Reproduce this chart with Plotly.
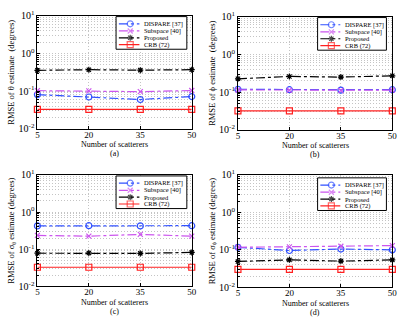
import plotly.graph_objects as go

W, H = 416, 324

scatterers = [5, 20, 35, 50]
names = ["DISPARE [37]", "Subspace [40]", "Proposed", "CRB (72)"]

# panel (a) theta
dispare_a = [0.081, 0.070, 0.060, 0.072]
subspace_a = [0.103, 0.102, 0.097, 0.104]
proposed_a = [0.355, 0.37, 0.36, 0.37]
crb_a = [0.033, 0.033, 0.033, 0.033]

# panel (b) phi
dispare_b = [0.118, 0.116, 0.113, 0.116]
subspace_b = [0.114, 0.112, 0.110, 0.113]
proposed_b = [0.225, 0.26, 0.25, 0.27]
crb_b = [0.032, 0.032, 0.032, 0.032]

# panel (c) sigma theta
dispare_c = [0.425, 0.43, 0.425, 0.43]
subspace_c = [0.235, 0.225, 0.25, 0.225]
proposed_c = [0.078, 0.079, 0.077, 0.082]
crb_c = [0.0327, 0.0327, 0.0327, 0.0327]

# panel (d) sigma phi
dispare_d = [0.117, 0.096, 0.105, 0.100]
subspace_d = [0.117, 0.12, 0.125, 0.13]
proposed_d = [0.049, 0.054, 0.050, 0.054]
crb_d = [0.030, 0.030, 0.030, 0.030]

panels = [
    ([dispare_a, subspace_a, proposed_a, crb_a], "RMSE of θ estimate  (degrees)", "(a)"),
    ([dispare_b, subspace_b, proposed_b, crb_b], "RMSE of ϕ estimate  (degrees)", "(b)"),
    ([dispare_c, subspace_c, proposed_c, crb_c], "RMSE of σ<sub>θ</sub> estimate (degrees)", "(c)"),
    ([dispare_d, subspace_d, proposed_d, crb_d], "RMSE of σ<sub>ϕ</sub> estimate (degrees)", "(d)"),
]

# pixel boxes: plot area (left, right, top, bottom) and legend box
plot_px = [(36, 193, 9, 127), (240, 397, 10, 128), (36, 193, 175, 291), (240, 397, 175, 292)]
legend_px = [(116, 188, 10, 44), (321, 391, 11, 45), (116, 188, 176, 210), (321, 391, 178, 212)]

styles = [
    dict(color="#3050ff", dash="dashdot", symbol="circle-open", size=6),
    dict(color="#cc55ee", dash="dashdot", symbol="x-thin-open", size=5),
    dict(color="#000000", dash="dashdot", symbol="asterisk-open", size=5),
    dict(color="#ff2020", dash="solid", symbol="square-open", size=6),
]

FONT = "Liberation Serif"
GRID = "#c4c4c4"
GRID_DASH = "1px,2px"


def dom_x(a, b):
    return [a / W, b / W]


def dom_y(top, bottom):
    return [1 - bottom / H, 1 - top / H]


fig = go.Figure()
layout = {}

for i, (series, ytitle, tag) in enumerate(panels):
    n = i + 1
    xa, ya = f"x{n}", f"y{n}"
    for vals, name, st in zip(series, names, styles):
        fig.add_trace(go.Scatter(
            x=scatterers, y=vals, xaxis=xa, yaxis=ya, mode="lines+markers",
            line=dict(color=st["color"], dash=st["dash"], width=1.2),
            marker=dict(symbol=st["symbol"], size=st["size"], color=st["color"],
                        line=dict(color=st["color"], width=1.2)),
            showlegend=False, cliponaxis=False, name=name))
    l, r, t, b = plot_px[i]
    layout[f"xaxis{n}"] = dict(
        domain=dom_x(l, r), anchor=ya, range=[5, 50], tickvals=scatterers,
        showline=True, linecolor="black", linewidth=1, mirror=True,
        ticks="inside", ticklen=3, tickcolor="black", ticklabelstandoff=-3,
        showgrid=True, gridcolor=GRID, griddash=GRID_DASH, gridwidth=1, zeroline=False,
        tickfont=dict(family=FONT, size=9, color="black"))
    layout[f"yaxis{n}"] = dict(
        domain=dom_y(t, b), anchor=xa, type="log", range=[-2, 1],
        tickvals=[0.01, 0.1, 1, 10],
        ticktext=["10<sup>-2</sup>", "10<sup>-1</sup>", "10<sup>0</sup>", "10<sup>1</sup>"],
        showline=True, linecolor="black", linewidth=1, mirror=True,
        ticks="inside", ticklen=3, tickcolor="black",
        showgrid=True, gridcolor=GRID, griddash=GRID_DASH, gridwidth=1, zeroline=False,
        minor=dict(dtick="D1", showgrid=True, gridcolor=GRID, griddash=GRID_DASH,
                   ticks="inside", ticklen=2, tickcolor="black"),
        tickfont=dict(family=FONT, size=10, color="black"),
        title=dict(text=ytitle, standoff=2, font=dict(family=FONT, size=8.5, color="black")))

    # x-axis title and panel tag
    cx = (l + r) / 2 / W
    fig.add_annotation(x=cx, y=1 - (b + 16.5) / H, xref="paper", yref="paper",
                       xanchor="center", yanchor="middle",
                       text="Number of scatterers", showarrow=False,
                       font=dict(family=FONT, size=8, color="black"))
    fig.add_annotation(x=cx, y=1 - (b + 26) / H, xref="paper", yref="paper",
                       xanchor="center", yanchor="middle",
                       text=tag, showarrow=False,
                       font=dict(family=FONT, size=8, color="black"))

    # hand-built legend box in a hidden helper axis
    hn = n + 4
    hx, hy = f"x{hn}", f"y{hn}"
    ll, lr, lt, lb = legend_px[i]
    layout[f"xaxis{hn}"] = dict(domain=dom_x(ll, lr), anchor=hy, range=[0, 1], visible=False,
                                fixedrange=True)
    layout[f"yaxis{hn}"] = dict(domain=dom_y(lt, lb), anchor=hx, range=[0, 1], visible=False,
                                fixedrange=True)
    rows = [0.78, 0.56, 0.35, 0.14]
    for row, name, st in zip(rows, names, styles):
        fig.add_trace(go.Scatter(
            x=[0.04, 0.2, 0.33], y=[row] * 3, xaxis=hx, yaxis=hy, mode="lines+markers",
            line=dict(color=st["color"], dash=st["dash"], width=1.2),
            marker=dict(symbol=st["symbol"], size=[0, st["size"], 0], color=st["color"],
                        line=dict(color=st["color"], width=1.2)),
            showlegend=False, hoverinfo="skip", cliponaxis=False))
        fig.add_annotation(x=0.37, y=row, xref=hx, yref=hy, text=name, showarrow=False,
                           xanchor="left", yanchor="middle",
                           font=dict(family=FONT, size=6.5, color="black"))
    fig.add_shape(type="rect", xref="paper", yref="paper",
                  x0=ll / W, x1=lr / W, y0=1 - lb / H, y1=1 - lt / H,
                  line=dict(color="black", width=1), fillcolor="rgba(0,0,0,0)")

fig.update_layout(
    width=W, height=H, margin=dict(l=0, r=0, t=0, b=0),
    paper_bgcolor="white", plot_bgcolor="white", showlegend=False,
    font=dict(family=FONT, color="black"), **layout)

# drop the default 8px page margin so the figure sits at the window's corner
fig.write_html("out.html", config={"displayModeBar": False},
               post_script="document.body.style.margin='0';")
